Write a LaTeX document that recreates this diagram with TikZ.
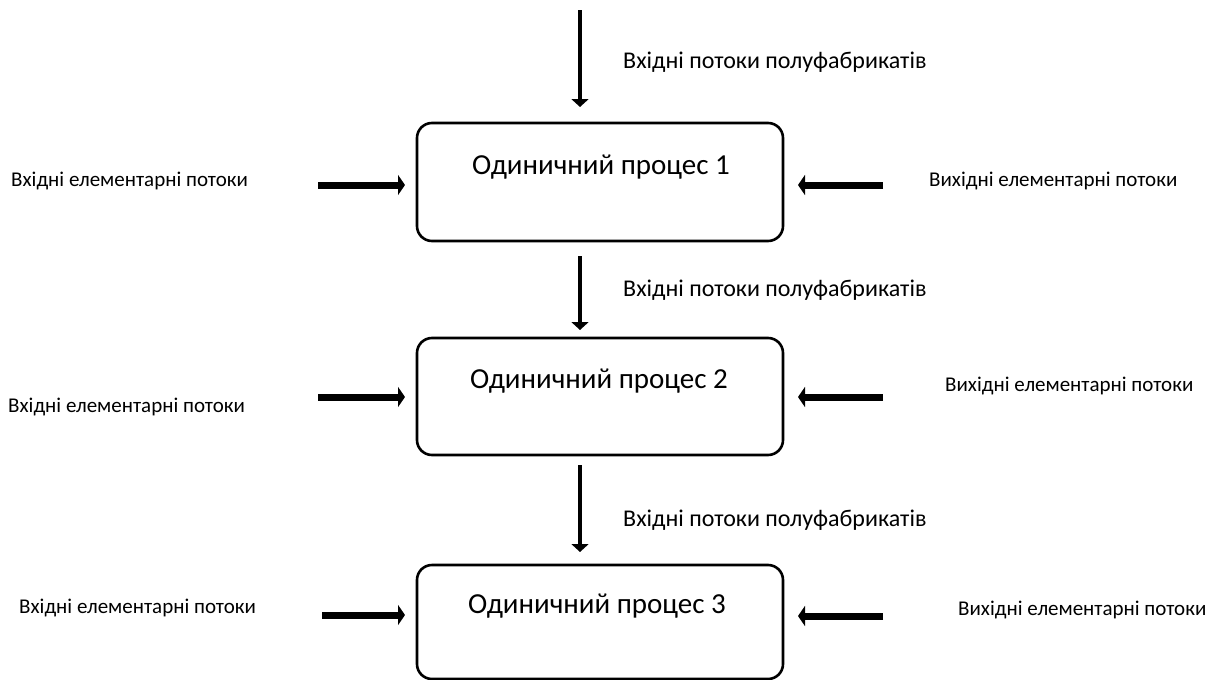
\documentclass[tikz,border=0pt]{standalone}
\usepackage{fontspec}
\setmainfont{Carlito}
\usetikzlibrary{arrows.meta}
\begin{document}
\begin{tikzpicture}[x=1pt,y=-1pt,
  procbox/.style={draw, line width=2.6pt, rounded corners=15pt, minimum width=366pt, inner sep=0pt},
  boxtext/.style={font=\fontsize{29}{32}\selectfont},
  sidetext/.style={font=\fontsize{21}{24}\selectfont, anchor=west, inner sep=0pt},
  feedtext/.style={font=\fontsize{24}{28}\selectfont, anchor=west, inner sep=0pt},
  vflow/.style={line width=4.5pt, -{Triangle[width=17pt,length=8pt]}},
  hflow/.style={line width=7pt, -{Triangle[width=20pt,length=7pt]}}]
\useasboundingbox (0,0) rectangle (1216,680);

% process boxes
\node[procbox, minimum height=118pt] (p1) at (600,182) {};
\node[procbox, minimum height=117pt] (p2) at (600,396.5) {};
\node[procbox, minimum height=114pt] (p3) at (600,622) {};
\node[boxtext] (t1) at (601,167) {Одиничний процес 1};
\node[boxtext] (t2) at (599,381) {Одиничний процес 2};
\node[boxtext] (t3) at (597,606) {Одиничний процес 3};

% semi-finished product flows
\coordinate (in0) at (580,10);
\coordinate (in0e) at (580,107);
\coordinate (o1) at (580,256);
\coordinate (in2) at (580,330);
\coordinate (o2) at (580,465);
\coordinate (in3) at (580,552);
\draw[vflow] (in0) -- (in0e);
\draw[vflow] (o1) -- (in2);
\draw[vflow] (o2) -- (in3);
\node[feedtext] (f1) at (623,62) {Вхідні потоки полуфабрикатів};
\node[feedtext] (f2) at (623,290) {Вхідні потоки полуфабрикатів};
\node[feedtext] (f3) at (623,520) {Вхідні потоки полуфабрикатів};

% elementary flows, left side
\coordinate (l1) at (318,185); \coordinate (l1e) at (405,185);
\coordinate (l2) at (318,397); \coordinate (l2e) at (405,397);
\coordinate (l3) at (322,615); \coordinate (l3e) at (405,615);
\draw[hflow] (l1) -- (l1e);
\draw[hflow] (l2) -- (l2e);
\draw[hflow] (l3) -- (l3e);
\node[sidetext] (a1) at (11,181) {Вхідні елементарні потоки};
\node[sidetext] (a2) at (8,407) {Вхідні елементарні потоки};
\node[sidetext] (a3) at (19,608) {Вхідні елементарні потоки};

% elementary flows, right side
\coordinate (r1) at (883,185); \coordinate (r1e) at (798,185);
\coordinate (r2) at (883,397); \coordinate (r2e) at (798,397);
\coordinate (r3) at (883,616); \coordinate (r3e) at (798,616);
\draw[hflow] (r1) -- (r1e);
\draw[hflow] (r2) -- (r2e);
\draw[hflow] (r3) -- (r3e);
\node[sidetext] (b1) at (929,181) {Вихідні елементарні потоки};
\node[sidetext] (b2) at (945,386) {Вихідні елементарні потоки};
\node[sidetext] (b3) at (958,610) {Вихідні елементарні потоки};
\end{tikzpicture}
\end{document}
